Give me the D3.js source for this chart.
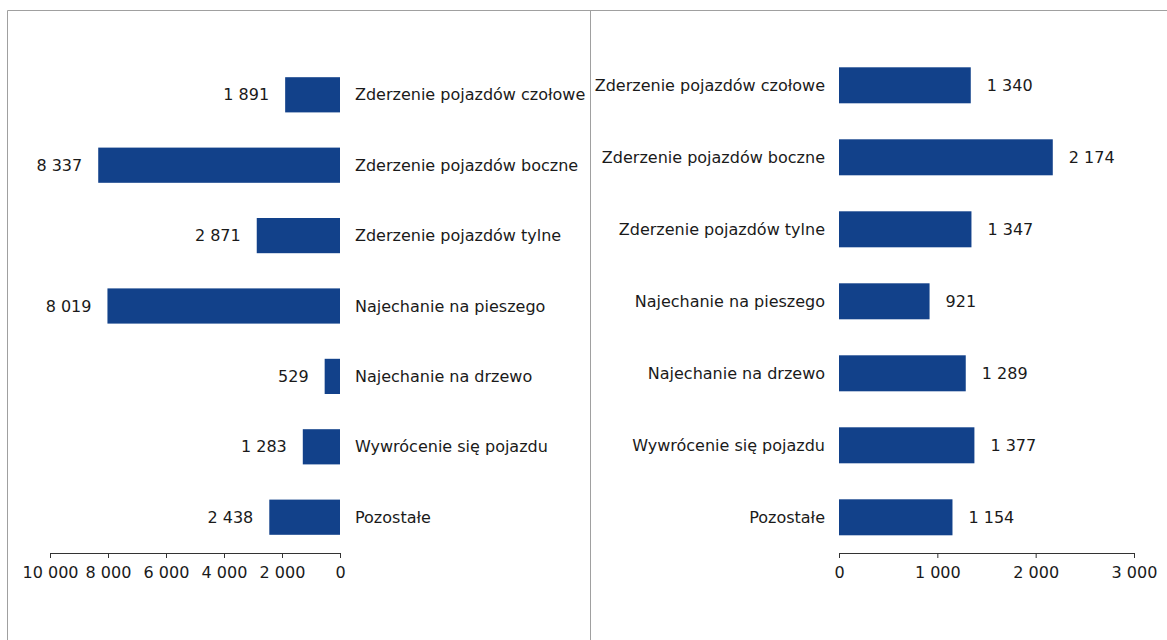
<!DOCTYPE html>
<html><head><meta charset="utf-8">
<script src="https://cdn.jsdelivr.net/npm/d3@7"></script>
<style>body{margin:0;background:#fff}svg{display:block}text{font-family:"DejaVu Sans",Verdana,sans-serif;fill:#1a1a1a}</style>
</head><body>
<script>
const categories = ["Zderzenie pojazdów czołowe","Zderzenie pojazdów boczne","Zderzenie pojazdów tylne","Najechanie na pieszego","Najechanie na drzewo","Wywrócenie się pojazdu","Pozostałe"];
const leftValues = [1891, 8337, 2871, 8019, 529, 1283, 2438];
const rightValues = [1340, 2174, 1347, 921, 1289, 1377, 1154];
const leftTicks = [0, 2000, 4000, 6000, 8000, 10000];
const rightTicks = [0, 1000, 2000, 3000];

const W = 1167, H = 640;
const fmt = v => d3.format(",")(v).replace(/,/g, "\u00a0");
const svg = d3.select("body").append("svg").attr("width", W).attr("height", H);

// frame
svg.append("path").attr("d", `M7.5,${H} V10.5 H${W}`).attr("fill","none").attr("stroke","#a0a0a0");
svg.append("line").attr("x1",590.5).attr("x2",590.5).attr("y1",10).attr("y2",H).attr("stroke","#a0a0a0");

const yL = d3.scaleBand().domain(categories).range([59.6, 552.4]).paddingInner(0.5).paddingOuter(0.25);
const yR = d3.scaleBand().domain(categories).range([49.3, 553.3]).paddingInner(0.5).paddingOuter(0.25);
const FS = "16px";
const color = "#12418a";
const axisY = 553;

// left panel
const xL = d3.scaleLinear().domain([0, 10000]).range([340, 50]);
svg.append("g").selectAll("rect").data(categories).join("rect")
  .attr("x", (d,i) => xL(leftValues[i])).attr("y", d => yL(d))
  .attr("width", (d,i) => xL(0) - xL(leftValues[i])).attr("height", yL.bandwidth())
  .attr("fill", color);
svg.append("g").selectAll("text").data(categories).join("text")
  .attr("x", (d,i) => xL(leftValues[i]) - 16).attr("y", d => yL(d) + yL.bandwidth()/2)
  .attr("dy","0.35em").attr("text-anchor","end").style("font-size",FS)
  .text((d,i) => fmt(leftValues[i]));
svg.append("g").selectAll("text").data(categories).join("text")
  .attr("x", 355).attr("y", d => yL(d) + yL.bandwidth()/2)
  .attr("dy","0.35em").attr("text-anchor","start").style("font-size",FS)
  .text(d => d);
const axL = svg.append("g").attr("transform",`translate(0,${axisY})`)
  .call(d3.axisBottom(xL).tickValues(leftTicks).tickFormat(fmt).tickSize(5).tickSizeOuter(0));

// right panel
const xR = d3.scaleLinear().domain([0, 3000]).range([839, 1134]);
svg.append("g").selectAll("rect").data(categories).join("rect")
  .attr("x", xR(0)).attr("y", d => yR(d))
  .attr("width", (d,i) => xR(rightValues[i]) - xR(0)).attr("height", yR.bandwidth())
  .attr("fill", color);
svg.append("g").selectAll("text").data(categories).join("text")
  .attr("x", (d,i) => xR(rightValues[i]) + 16).attr("y", d => yR(d) + yR.bandwidth()/2)
  .attr("dy","0.35em").attr("text-anchor","start").style("font-size",FS)
  .text((d,i) => fmt(rightValues[i]));
svg.append("g").selectAll("text").data(categories).join("text")
  .attr("x", 825).attr("y", d => yR(d) + yR.bandwidth()/2)
  .attr("dy","0.35em").attr("text-anchor","end").style("font-size",FS)
  .text(d => d);
const axR = svg.append("g").attr("transform",`translate(0,${axisY})`)
  .call(d3.axisBottom(xR).tickValues(rightTicks).tickFormat(fmt).tickSize(5).tickSizeOuter(0));

[axL, axR].forEach(a => {
  a.select(".domain").attr("stroke","#333");
  a.selectAll(".tick line").attr("stroke","#333");
  a.selectAll(".tick text").attr("y", 14).attr("dy","0.71em").style("font-size",FS).style("font-family",'"DejaVu Sans",Verdana,sans-serif').attr("fill","#1a1a1a");
});
</script>
</body></html>
